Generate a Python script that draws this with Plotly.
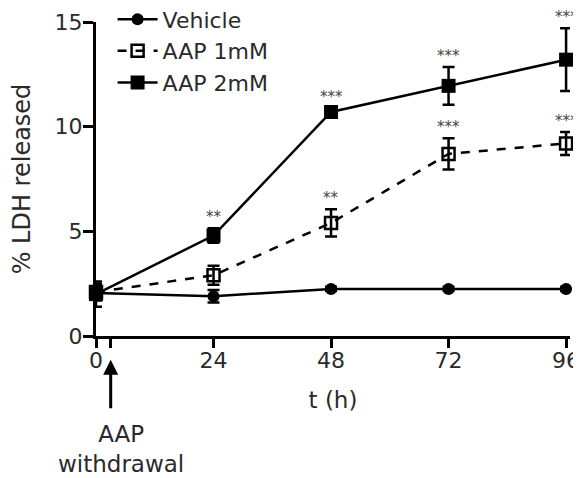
import plotly.graph_objects as go

t = [0, 24, 48, 72, 96]
vehicle = [2.05, 1.9, 2.25, 2.25, 2.25]
vehicle_err = [0.3, 0.3, 0.1, 0.1, 0.1]
aap1 = [2.1, 2.9, 5.4, 8.7, 9.2]
aap1_err = [0.4, 0.45, 0.65, 0.75, 0.55]
aap2 = [2.0, 4.8, 10.7, 11.95, 13.2]
aap2_err = [0.6, 0.35, 0.2, 0.9, 1.5]

stars_x = [24, 48, 72, 96, 48, 72, 96]
stars_y = [5.15, 10.9, 12.85, 14.7, 6.05, 9.45, 9.75]
stars_txt = ["**", "***", "***", "***", "**", "***", "***"]

tick_vals = [0, 3, 24, 48, 72, 96]
tick_text = ["0", "", "24", "48", "72", "96"]

FONT = "DejaVu Sans, Liberation Sans, Arial, sans-serif"
TXT = "#2a2a2a"

fig = go.Figure()
fig.add_trace(go.Scatter(
    x=t, y=vehicle, name="Vehicle", mode="lines+markers",
    line=dict(color="black", width=2.5),
    marker=dict(symbol="circle", size=12, color="black"),
    error_y=dict(type="data", array=vehicle_err, color="black", thickness=2.5, width=6),
    cliponaxis=False,
))
fig.add_trace(go.Scatter(
    x=t, y=aap1, name="AAP 1mM", mode="lines+markers",
    line=dict(color="black", width=2.5, dash="dash"),
    marker=dict(symbol="square-open", size=12, color="black", line=dict(width=2.5, color="black")),
    error_y=dict(type="data", array=aap1_err, color="black", thickness=2.5, width=6),
    cliponaxis=False,
))
fig.add_trace(go.Scatter(
    x=t, y=aap2, name="AAP 2mM", mode="lines+markers",
    line=dict(color="black", width=2.5),
    marker=dict(symbol="square", size=14, color="black"),
    error_y=dict(type="data", array=aap2_err, color="black", thickness=2.5, width=6),
    cliponaxis=False,
))

for sx, sy, st in zip(stars_x, stars_y, stars_txt):
    fig.add_annotation(x=sx, y=sy, text=st, showarrow=False, yanchor="bottom",
                       yshift=0, font=dict(size=15, color="#444", family=FONT))

fig.add_annotation(x=3, y=-0.076, xref="x", yref="paper", ax=0, ay=50,
                   text="", showarrow=True, arrowhead=2, arrowsize=1, arrowwidth=3,
                   arrowcolor="black")
fig.add_annotation(x=5.1, y=-0.265, xref="x", yref="paper", text="AAP<br>withdrawal",
                   showarrow=False, yanchor="top", xanchor="center",
                   font=dict(size=23, color=TXT, family=FONT))

fig.update_layout(
    width=573, height=470,
    margin=dict(l=88, r=11, t=14, b=142, autoexpand=False),
    paper_bgcolor="white", plot_bgcolor="white",
    font=dict(family=FONT, size=22, color=TXT),
    showlegend=True,
    legend=dict(x=0.035, y=1.075, xanchor="left", yanchor="top",
                bgcolor="rgba(0,0,0,0)", font=dict(size=22, family=FONT, color=TXT),
                tracegroupgap=0, itemwidth=40),
    xaxis=dict(range=[0, 96.8], tickvals=tick_vals, ticktext=tick_text,
               showgrid=False, zeroline=False, showline=True, linewidth=3,
               linecolor="black", ticks="outside", ticklen=9, tickwidth=2.5,
               tickcolor="black", ticklabelstandoff=-6,
               title=dict(text="t (h)", standoff=20,
                          font=dict(size=23, family=FONT, color=TXT)),
               tickfont=dict(size=22, family=FONT, color=TXT), automargin=False),
    yaxis=dict(range=[0, 15], tickvals=[0, 5, 10, 15], showgrid=False,
               zeroline=False, showline=True, linewidth=3, linecolor="black",
               ticks="outside", ticklen=10, tickwidth=2.5, tickcolor="black",
               ticklabelstandoff=-4,
               title=dict(text="% LDH released", standoff=20,
                          font=dict(size=24, family=FONT, color=TXT)),
               tickfont=dict(size=22, family=FONT, color=TXT), automargin=False),
)

fig.write_html("out.html")
